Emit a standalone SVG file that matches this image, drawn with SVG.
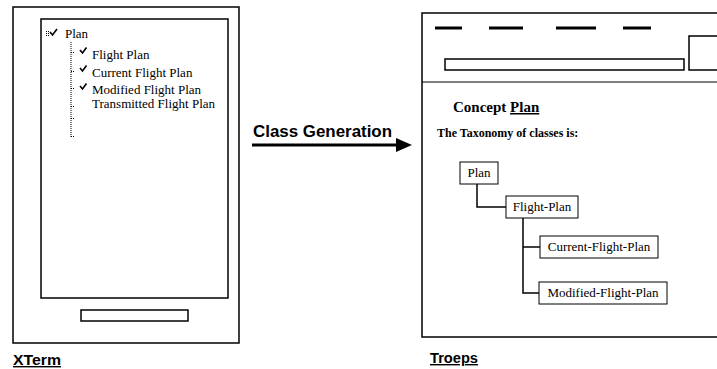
<svg xmlns="http://www.w3.org/2000/svg" width="717" height="369" viewBox="0 0 717 369">
<defs>
<style>
.frame{fill:none;stroke:#000;stroke-width:1.5}
.box{fill:#fff;stroke:#000;stroke-width:1}
.conn{fill:none;stroke:#000;stroke-width:1.5}
.tree{font-family:"Liberation Serif","Times New Roman",serif;font-size:13px;fill:#000}
.node{font-family:"Liberation Serif","Times New Roman",serif;font-size:13px;fill:#000}
.bold{font-family:"Liberation Serif","Times New Roman",serif;font-weight:bold;fill:#000}
.label{font-family:"Liberation Sans",Arial,sans-serif;font-weight:bold;font-size:14px;fill:#000;text-decoration:underline}
.check{fill:none;stroke:#000;stroke-width:1.6}
.dots{fill:none;stroke:#000;stroke-width:1;stroke-dasharray:1 1}
.dash{stroke:#000;stroke-width:3}
</style>
<marker id="arr" markerWidth="6" markerHeight="6" refX="0" refY="3" orient="auto" markerUnits="strokeWidth">
<path d="M0,0 L6,3 L0,6 Z" fill="#000"/>
</marker>
</defs>

<g id="xterm">
<rect class="frame" x="13" y="7" width="226" height="336"/>
<rect class="frame" x="41" y="19" width="187" height="279"/>
<rect class="frame" x="81" y="310" width="107" height="11"/>
<text class="label" x="13" y="365" textLength="48" lengthAdjust="spacingAndGlyphs">XTerm</text>
<g id="tree">
<path class="dots" d="M46,31.5h4M46,33.5h4M46,35.5h4"/>
<path class="check" d="M50,32 L52.5,35 L57,29"/>
<text class="tree" x="65" y="38">Plan</text>
<path class="dots" d="M71,42V137"/>
<path class="dots" d="M71,52.5h4M71,71.5h4M71,88.5h4M71,106.5h4M71,118.5h4M71,136.5h4"/>
<path class="check" d="M80,50 L82.5,53 L86.5,47.5"/>
<text class="tree" x="92" y="59">Flight Plan</text>
<path class="check" d="M80,68 L82.5,71 L86.5,65.5"/>
<text class="tree" x="92" y="77">Current Flight Plan</text>
<path class="check" d="M80,86 L82.5,89 L86.5,83.5"/>
<text class="tree" x="92" y="94">Modified Flight Plan</text>
<text class="tree" x="92" y="108">Transmitted Flight Plan</text>
</g>
</g>

<g id="arrow">
<text x="253" y="137" font-family="Liberation Sans,Arial,sans-serif" font-weight="bold" font-size="16" textLength="139" lengthAdjust="spacingAndGlyphs">Class Generation</text>
<line x1="252" y1="145" x2="397" y2="145" stroke="#000" stroke-width="3"/>
<path d="M396,138 L412,145 L396,152 Z" fill="#000"/>
</g>

<g id="troeps">
<rect class="frame" x="422" y="13" width="310" height="324"/>
<line x1="422" y1="82" x2="717" y2="82" stroke="#000" stroke-width="1"/>
<line class="dash" x1="435" y1="28" x2="462" y2="28"/>
<line class="dash" x1="489" y1="28" x2="523" y2="28"/>
<line class="dash" x1="556" y1="28" x2="596" y2="28"/>
<line class="dash" x1="623" y1="28" x2="651" y2="28"/>
<rect class="frame" x="445" y="59" width="239" height="11"/>
<rect class="frame" x="689" y="36" width="40" height="34"/>
<text class="bold" x="453" y="112" font-size="15">Concept <tspan text-decoration="underline">Plan</tspan></text>
<text class="bold" x="437" y="137" font-size="12">The Taxonomy of classes is:</text>
<text class="label" x="430" y="363" textLength="48" lengthAdjust="spacingAndGlyphs">Troeps</text>
</g>

<g id="connectors">
<path class="conn" d="M477,184 V207 H506"/>
<path class="conn" d="M523,218 V293 H539"/>
<path class="conn" d="M523,247 H540"/>
</g>

<g id="node-plan">
<rect class="box" x="460" y="162" width="38" height="22"/>
<text class="node" x="479" y="177" text-anchor="middle">Plan</text>
</g>
<g id="node-flight-plan">
<rect class="box" x="506" y="196" width="72" height="22"/>
<text class="node" x="542" y="211" text-anchor="middle">Flight-Plan</text>
</g>
<g id="node-current-flight-plan">
<rect class="box" x="540" y="236" width="118" height="22"/>
<text class="node" x="599" y="251" text-anchor="middle">Current-Flight-Plan</text>
</g>
<g id="node-modified-flight-plan">
<rect class="box" x="539" y="282" width="128" height="22"/>
<text class="node" x="603" y="297" text-anchor="middle">Modified-Flight-Plan</text>
</g>
</svg>
